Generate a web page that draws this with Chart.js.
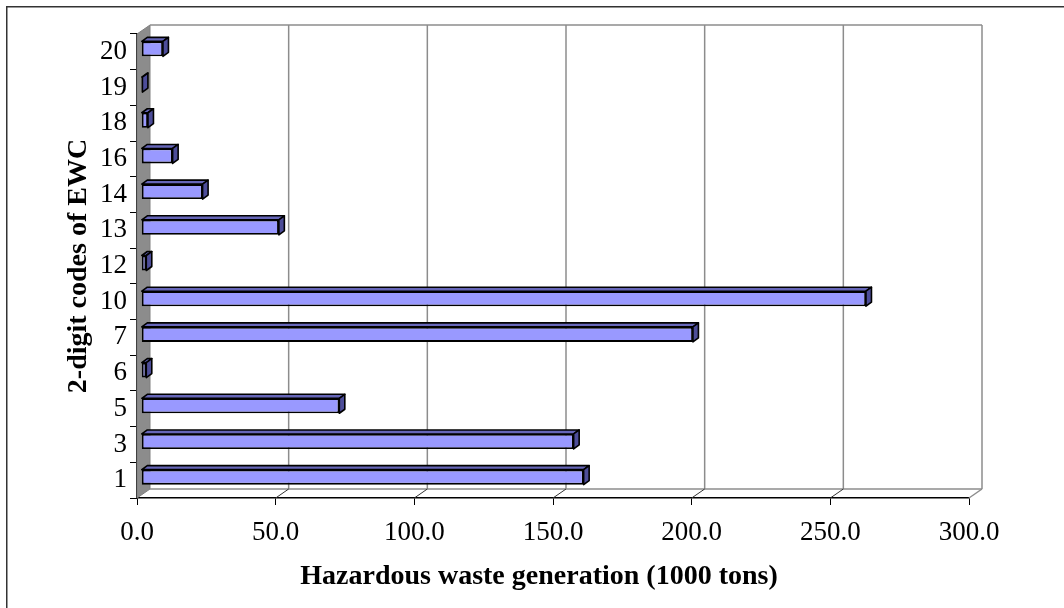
<!DOCTYPE html>
<html>
<head>
<meta charset="utf-8">
<title>Hazardous waste generation by EWC code</title>
<script src="https://cdn.jsdelivr.net/npm/chart.js@4.4.1/dist/chart.umd.min.js"></script>
<style>
  html, body { margin: 0; padding: 0; background: #ffffff; }
  #wrap { width: 1064px; height: 608px; }
</style>
</head>
<body>
<div id="wrap"><canvas id="chart" width="1064" height="608"></canvas></div>
<script>
// 2-digit EWC codes (bottom to top) and hazardous waste generated, in 1000 tons
const codes = ['1', '3', '5', '6', '7', '10', '12', '13', '14', '16', '18', '19', '20'];
const wasteKt = [159.5, 155.9, 71.4, 1.8, 198.9, 261.3, 1.8, 49.6, 22.1, 11.3, 2.4, 0.4, 7.8];
const xTicks = [0, 50, 100, 150, 200, 250, 300];

const FONT = '"Liberation Serif", "Times New Roman", serif';

// depth of the 3-D box and of each bar
const WALL = { dx: 13, dy: -9 };
const BAR_SHIFT = { dx: 4.3, dy: -3 };
const BAR_DEPTH = { dx: 5.5, dy: -4 };

function line(ctx, x1, y1, x2, y2) {
  ctx.beginPath();
  ctx.moveTo(x1, y1);
  ctx.lineTo(x2, y2);
  ctx.stroke();
}

function poly(ctx, pts) {
  ctx.beginPath();
  ctx.moveTo(pts[0][0], pts[0][1]);
  for (let i = 1; i < pts.length; i++) ctx.lineTo(pts[i][0], pts[i][1]);
  ctx.closePath();
  ctx.fill();
  ctx.stroke();
}

// draws the side wall, back wall grid and floor, then raises the bars into 3-D
const box3d = {
  id: 'box3d',
  beforeDraw(chart) {
    const ctx = chart.ctx;
    ctx.save();
    ctx.strokeStyle = '#333333';
    ctx.lineWidth = 1.5;
    ctx.strokeRect(6.75, 6.75, 1400, 900);
    ctx.restore();
  },
  beforeDatasetsDraw(chart) {
    const { ctx, chartArea: a, scales: { x } } = chart;
    const L = a.left, R = a.right, T = a.top, B = a.bottom;
    const dx = WALL.dx, dy = WALL.dy;
    ctx.save();
    // left side wall
    ctx.fillStyle = '#8c8c8c';
    ctx.strokeStyle = '#808080';
    ctx.lineWidth = 1;
    poly(ctx, [[L, T], [L + dx, T + dy], [L + dx, B + dy], [L, B]]);
    // back wall grid lines
    ctx.strokeStyle = '#8c8c8c';
    ctx.lineWidth = 1.5;
    xTicks.forEach(v => {
      if (v === 0) return;
      const px = x.getPixelForValue(v) + dx;
      line(ctx, px, T + dy, px, B + dy);
    });
    line(ctx, L + dx, T + dy, R + dx, T + dy);
    // floor edges
    line(ctx, L + dx, B + dy, R + dx, B + dy);
    line(ctx, R + dx, B + dy, R, B);
    // floor tick diagonals
    ctx.strokeStyle = '#333333';
    ctx.lineWidth = 1;
    xTicks.forEach(v => {
      if (v === 0 || v === 300) return;
      const px = x.getPixelForValue(v);
      line(ctx, px, B, px + dx, B + dy);
    });
    ctx.restore();
    ctx.save();
    ctx.translate(BAR_SHIFT.dx, BAR_SHIFT.dy);
  },
  afterDatasetsDraw(chart) {
    const ctx = chart.ctx;
    const meta = chart.getDatasetMeta(0);
    const dx = BAR_DEPTH.dx, dy = BAR_DEPTH.dy;
    ctx.lineJoin = 'round';
    ctx.lineWidth = 1.6;
    ctx.strokeStyle = '#000000';
    meta.data.forEach(bar => {
      const { x, y, base, height } = bar.getProps(['x', 'y', 'base', 'height'], true);
      const top = y - height / 2, bot = y + height / 2;
      ctx.fillStyle = '#6666b8';
      poly(ctx, [[base, top], [base + dx, top + dy], [x + dx, top + dy], [x, top]]);
      ctx.fillStyle = '#4d4d99';
      poly(ctx, [[x, top], [x + dx, top + dy], [x + dx, bot + dy], [x, bot]]);
    });
    ctx.restore();
  }
};

new Chart(document.getElementById('chart'), {
  type: 'bar',
  data: {
    labels: codes,
    datasets: [{
      data: wasteKt,
      backgroundColor: '#9999ff',
      borderColor: '#000000',
      borderWidth: 1.8,
      borderSkipped: false,
      barPercentage: 0.42,
      categoryPercentage: 1,
      clip: false
    }]
  },
  options: {
    indexAxis: 'y',
    responsive: false,
    devicePixelRatio: 1,
    animation: false,
    layout: { padding: { top: 34, right: 95, left: 0, bottom: 0 } },
    plugins: {
      legend: { display: false },
      tooltip: { enabled: false }
    },
    scales: {
      x: {
        type: 'linear',
        min: 0,
        max: 300,
        afterBuildTicks(s) { s.ticks = xTicks.map(v => ({ value: v })); },
        afterFit(s) { s.height = 110; },
        ticks: {
          callback: v => Number(v).toFixed(1),
          font: { family: FONT, size: 27 },
          color: '#000000',
          padding: 12,
          maxRotation: 0,
          autoSkip: false
        },
        grid: { drawOnChartArea: false, drawTicks: true, tickLength: 7, color: '#000000', lineWidth: 1 },
        border: { display: true, color: '#000000', width: 1.5 },
        title: {
          display: true,
          text: 'Hazardous waste generation (1000 tons)    ',
          font: { family: FONT, size: 28, weight: 'bold' },
          color: '#000000',
          padding: { top: 0, bottom: 14 }
        }
      },
      y: {
        type: 'category',
        reverse: true,
        afterFit(s) { s.width = 137; },
        ticks: {
          font: { family: FONT, size: 27 },
          color: '#000000',
          padding: 3,
          autoSkip: false
        },
        grid: { drawOnChartArea: false, drawTicks: true, tickLength: 7, color: '#000000', lineWidth: 1, offset: true },
        border: { display: true, color: '#000000', width: 1.5 },
        title: {
          display: true,
          text: '2-digit codes of EWC',
          font: { family: FONT, size: 28, weight: 'bold' },
          color: '#000000',
          padding: { top: 62, bottom: 0 }
        }
      }
    }
  },
  plugins: [box3d]
});
</script>
</body>
</html>
